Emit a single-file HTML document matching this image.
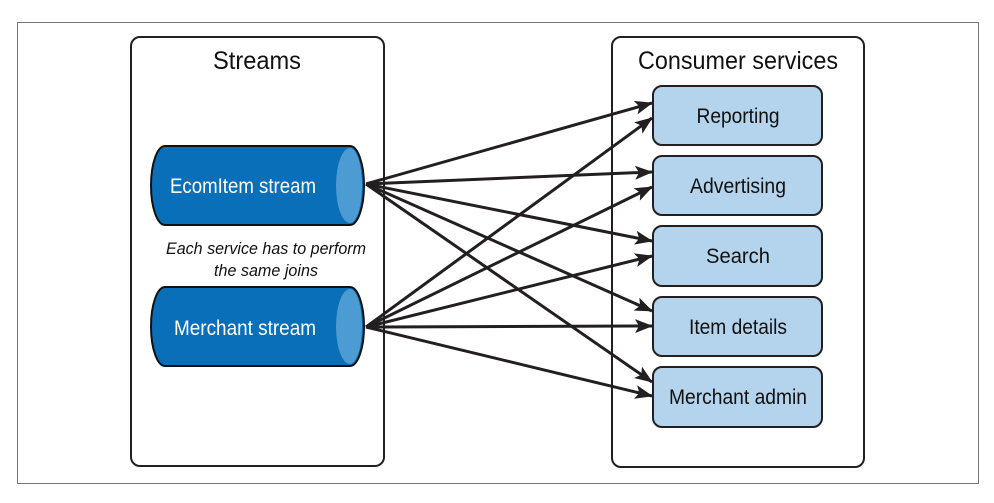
<!DOCTYPE html>
<html><head><style>
html,body{margin:0;padding:0;background:#fff;}
body{width:994px;height:498px;overflow:hidden;position:relative;font-family:"Liberation Sans",sans-serif;}
</style></head><body>
<svg width="994" height="498" viewBox="0 0 994 498" xmlns="http://www.w3.org/2000/svg">
<defs>
<marker id="a" markerWidth="18" markerHeight="14" refX="17" refY="7" orient="auto" markerUnits="userSpaceOnUse" viewBox="0 0 18 14">
<path d="M0,0 L18,7 L0,14 L4,7 Z" fill="#231f20"/>
</marker>
</defs>
<rect x="17.5" y="22.5" width="961" height="461" fill="#fff" stroke="#777" stroke-width="1"/>
<rect x="131" y="37" width="253" height="429" rx="9" fill="#fff" stroke="#231f20" stroke-width="2"/>
<rect x="612" y="37" width="252" height="430" rx="9" fill="#fff" stroke="#231f20" stroke-width="2"/>
<text x="257" y="69" font-size="25" text-anchor="middle" fill="#111" textLength="88" lengthAdjust="spacingAndGlyphs">Streams</text>
<text x="738" y="69" font-size="25" text-anchor="middle" fill="#111" textLength="200" lengthAdjust="spacingAndGlyphs">Consumer services</text>

<g stroke="#111" stroke-width="2">
<path d="M165,146 H350 A14,39.5 0 0 1 350,225 H165 A14,39.5 0 0 1 165,146 Z" fill="#0a6fb9"/>
<path d="M350,148 A14,37.5 0 0 0 350,223 A12,37.5 0 0 0 350,148 Z" fill="#4d9bd3" stroke="none"/>
<path d="M165,287 H350 A14,39.5 0 0 1 350,366 H165 A14,39.5 0 0 1 165,287 Z" fill="#0a6fb9"/>
<path d="M350,289 A14,37.5 0 0 0 350,364 A12,37.5 0 0 0 350,289 Z" fill="#4d9bd3" stroke="none"/>
</g>
<text x="243" y="193" font-size="21" text-anchor="middle" fill="#fff" textLength="146" lengthAdjust="spacingAndGlyphs">EcomItem stream</text>
<text x="245" y="335" font-size="21" text-anchor="middle" fill="#fff" textLength="142" lengthAdjust="spacingAndGlyphs">Merchant stream</text>
<text x="266" y="254" font-size="17" font-style="italic" text-anchor="middle" fill="#111" textLength="200" lengthAdjust="spacingAndGlyphs">Each service has to perform</text>
<text x="266" y="276" font-size="17" font-style="italic" text-anchor="middle" fill="#111" textLength="104" lengthAdjust="spacingAndGlyphs">the same joins</text>

<g fill="#b3d4ec" stroke="#231f20" stroke-width="2">
<rect x="653" y="86" width="169" height="59" rx="9"/>
<rect x="653" y="156" width="169" height="59" rx="9"/>
<rect x="653" y="226" width="169" height="60" rx="9"/>
<rect x="653" y="297" width="169" height="59" rx="9"/>
<rect x="653" y="367" width="169" height="60" rx="9"/>
</g>
<g font-size="21" text-anchor="middle" fill="#111">
<text x="738" y="123" textLength="83" lengthAdjust="spacingAndGlyphs">Reporting</text>
<text x="738" y="193" textLength="96" lengthAdjust="spacingAndGlyphs">Advertising</text>
<text x="738" y="263" textLength="64" lengthAdjust="spacingAndGlyphs">Search</text>
<text x="738" y="334" textLength="98" lengthAdjust="spacingAndGlyphs">Item details</text>
<text x="738" y="404" textLength="138" lengthAdjust="spacingAndGlyphs">Merchant admin</text>
</g>

<g stroke="#231f20" stroke-width="3" fill="none" marker-end="url(#a)">
<line x1="366" y1="184" x2="652" y2="103"/>
<line x1="366" y1="184" x2="652" y2="172"/>
<line x1="366" y1="184" x2="652" y2="241"/>
<line x1="366" y1="184" x2="652" y2="311"/>
<line x1="366" y1="184" x2="652" y2="382"/>
<line x1="366" y1="327" x2="652" y2="118"/>
<line x1="366" y1="327" x2="652" y2="187"/>
<line x1="366" y1="327" x2="652" y2="256"/>
<line x1="366" y1="327" x2="652" y2="326"/>
<line x1="366" y1="327" x2="652" y2="396"/>
</g>
</svg>
</body></html>
